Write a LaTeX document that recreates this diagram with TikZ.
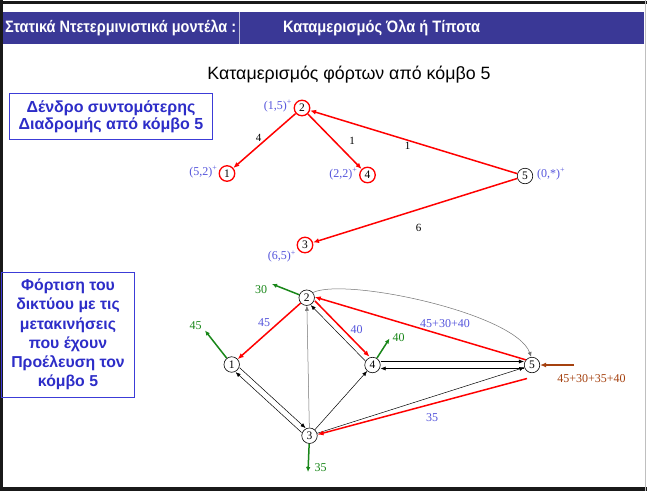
\documentclass[tikz,border=0pt]{standalone}
\usepackage{fontspec}
\usepackage{graphicx}
\setmainfont{Liberation Serif}
\newfontfamily\sansf{Liberation Sans}
\usetikzlibrary{arrows.meta,calc}
\definecolor{hdrblue}{RGB}{58,56,150}
\definecolor{boxblue}{RGB}{60,60,215}
\definecolor{txtblue}{RGB}{45,45,200}
\definecolor{lblblue}{RGB}{85,85,220}
\definecolor{grn}{RGB}{25,135,25}
\definecolor{brn}{RGB}{165,65,15}
\begin{document}
\begin{tikzpicture}[x=1pt,y=-1pt,
  tnode/.style={circle,draw=red,line width=1.3pt,inner sep=0pt,minimum size=15.5pt,font=\fontsize{11.5}{11.5}\selectfont},
  tnodeb/.style={circle,draw=black,line width=0.6pt,inner sep=0pt,minimum size=15.5pt,font=\fontsize{11.5}{11.5}\selectfont},
  nnode/.style={circle,draw=black,line width=0.6pt,inner sep=0pt,minimum size=15.5pt,font=\fontsize{11.5}{11.5}\selectfont},
  redarr/.style={draw=red,line width=1.5pt,-{Latex[length=6pt,width=5pt]}},
  thinarr/.style={draw=black,line width=0.5pt,-{Latex[length=5pt,width=4pt]}},
  grayarr/.style={draw=black!55,line width=0.5pt,-{Latex[length=5pt,width=4pt]}},
  grnarr/.style={draw=grn,line width=1.5pt,-{Latex[length=5pt,width=4.5pt]}},
  brnarr/.style={draw=brn,line width=1.8pt,-{Latex[length=6pt,width=5pt]}},
  tlabel/.style={text=lblblue,font=\fontsize{12}{12}\selectfont,inner sep=0pt},
  elabel/.style={font=\fontsize{11}{11}\selectfont,inner sep=0pt},
  blabel/.style={text=lblblue,font=\fontsize{12}{12}\selectfont,inner sep=0pt},
  glabel/.style={text=grn,font=\fontsize{12}{12}\selectfont,inner sep=0pt},
  hdrtext/.style={text=white,font=\sansf\bfseries\fontsize{16.5}{17}\selectfont,inner sep=0pt},
  infobox/.style={draw=boxblue,line width=0.8pt,text=txtblue,align=center,inner sep=0pt}
]
\useasboundingbox (0,0) rectangle (647,491);
\fill[white] (0,0) rectangle (647,491);
% frame
\fill[black!90] (0,1) rectangle (647,3.5);
\fill[black!90] (0,0) rectangle (2.5,491);
\fill[black!90] (0,486.5) rectangle (647,491);
\draw[black!25,line width=0.8pt] (645.5,0) -- (645.5,491);
% header
\fill[hdrblue] (2.5,12) rectangle (644,44);
\draw[white!65!hdrblue,line width=1pt] (239.5,12) -- (239.5,44);
\node[hdrtext,anchor=west] (h1) at (5,28.5) {\resizebox{231pt}{\height}{Στατικά Ντετερμινιστικά μοντέλα :}};
\node[hdrtext] (h2) at (381.5,28.5) {\resizebox{197pt}{\height}{Καταμερισμός Όλα ή Τίποτα}};
% title
\node[font=\sansf\fontsize{17.8}{18}\selectfont,inner sep=0pt] (title) at (349,75) {Καταμερισμός φόρτων από κόμβο 5};
% info boxes
\node[infobox,minimum width=203pt,minimum height=46.5pt,font=\sansf\bfseries\fontsize{16}{17.2}\selectfont] (box1) at (111,116.5) {Δένδρο συντομότερης\\Διαδρομής από κόμβο 5};
\node[infobox,minimum width=133pt,minimum height=125pt,font=\sansf\bfseries\fontsize{15.8}{19.3}\selectfont] (box2) at (68,334.5) {Φόρτιση του\\δικτύου με τις\\μετακινήσεις\\που έχουν\\Προέλευση τον\\κόμβο 5};
% tree
\node[tnode] (t2) at (302,108) {2};
\node[tnode] (t1) at (227,173.5) {1};
\node[tnode] (t4) at (367.5,175) {4};
\node[tnodeb] (t5) at (525,176) {5};
\node[tnode] (t3) at (305,245) {3};
\node[tlabel,anchor=east] (lt2) at (292,106) {(1,5)\textsuperscript{+}};
\node[tlabel,anchor=east] (lt1) at (217.5,172) {(5,2)\textsuperscript{+}};
\node[tlabel,anchor=east] (lt4) at (357.5,174) {(2,2)\textsuperscript{+}};
\node[tlabel,anchor=west] (lt5) at (537,174) {(0,*)\textsuperscript{+}};
\node[tlabel,anchor=east] (lt3) at (296,256.5) {(6,5)\textsuperscript{+}};
\draw[redarr] (t2) -- (t1);
\draw[redarr] (t2) -- (t4);
\draw[redarr] (t5) -- (t2);
\draw[redarr] (t5) -- (t3);
\node[elabel] (e21) at (258.5,138) {4};
\node[elabel] (e24) at (352,141) {1};
\node[elabel] (e52) at (407.5,145.5) {1};
\node[elabel] (e53) at (418.5,228) {6};
% network
\node[nnode] (n2) at (306.7,297.7) {2};
\node[nnode] (n1) at (231.7,364.5) {1};
\node[nnode] (n4) at (372.5,365) {4};
\node[nnode] (n5) at (532,365) {5};
\node[nnode] (n3) at (309.5,435.7) {3};
% thin black connectors
\draw[thinarr,transform canvas={shift={(2,-2.2)}}] (n1) -- (n3);
\draw[thinarr,transform canvas={shift={(-2,2.2)}}] (n3) -- (n1);
\draw[grayarr] (n3) -- (n2);
\draw[thinarr,transform canvas={shift={(-1.6,1.6)}}] (n4) -- (n2);
\draw[thinarr] (n3) -- (n4);
\draw[thinarr,transform canvas={shift={(0,-3.5)}}] (n4) -- (n5);
\draw[thinarr,transform canvas={shift={(0,3.5)}}] (n5) -- (n4);
\draw[thinarr] (n3) -- (n5);
\draw[grayarr] (n2.40) .. controls (345,277) and (515,313) .. (n5.95);
% red connectors
\draw[redarr] (n2) -- (n1);
\draw[redarr,transform canvas={shift={(2.6,-2.6)}}] (n2) -- (n4);
\draw[redarr] (n5.140) -- (n2.5);
\coordinate (r53) at ($(n5)+(-5,13.5)$);
\draw[redarr] (r53) -- (n3.8);
\node[blabel] (b21) at (264,322.5) {45};
\node[blabel] (b24) at (356.5,330) {40};
\node[blabel] (b52) at (445,323.5) {45+30+40};
\node[blabel] (b53) at (432,418) {35};
% green outflows
\coordinate (g2) at (272,284);
\coordinate (g1) at (205,330.5);
\coordinate (g4) at (389.5,338.5);
\coordinate (g3) at (308,472);
\draw[grnarr] (n2) -- (g2);
\draw[grnarr] (n1) -- (g1);
\draw[grnarr] (n4) -- (g4);
\draw[grnarr] (n3) -- (g3);
\node[glabel] (lg2) at (261,290) {30};
\node[glabel] (lg1) at (195.5,326) {45};
\node[glabel] (lg4) at (398.5,338) {40};
\node[glabel] (lg3) at (320.5,467.5) {35};
% brown inflow
\coordinate (bin) at (574,365);
\draw[brnarr] (bin) -- (n5);
\node[text=brn,font=\fontsize{12}{12}\selectfont,inner sep=0pt] (lbin) at (591.5,378.5) {45+30+35+40};
\end{tikzpicture}
\end{document}
